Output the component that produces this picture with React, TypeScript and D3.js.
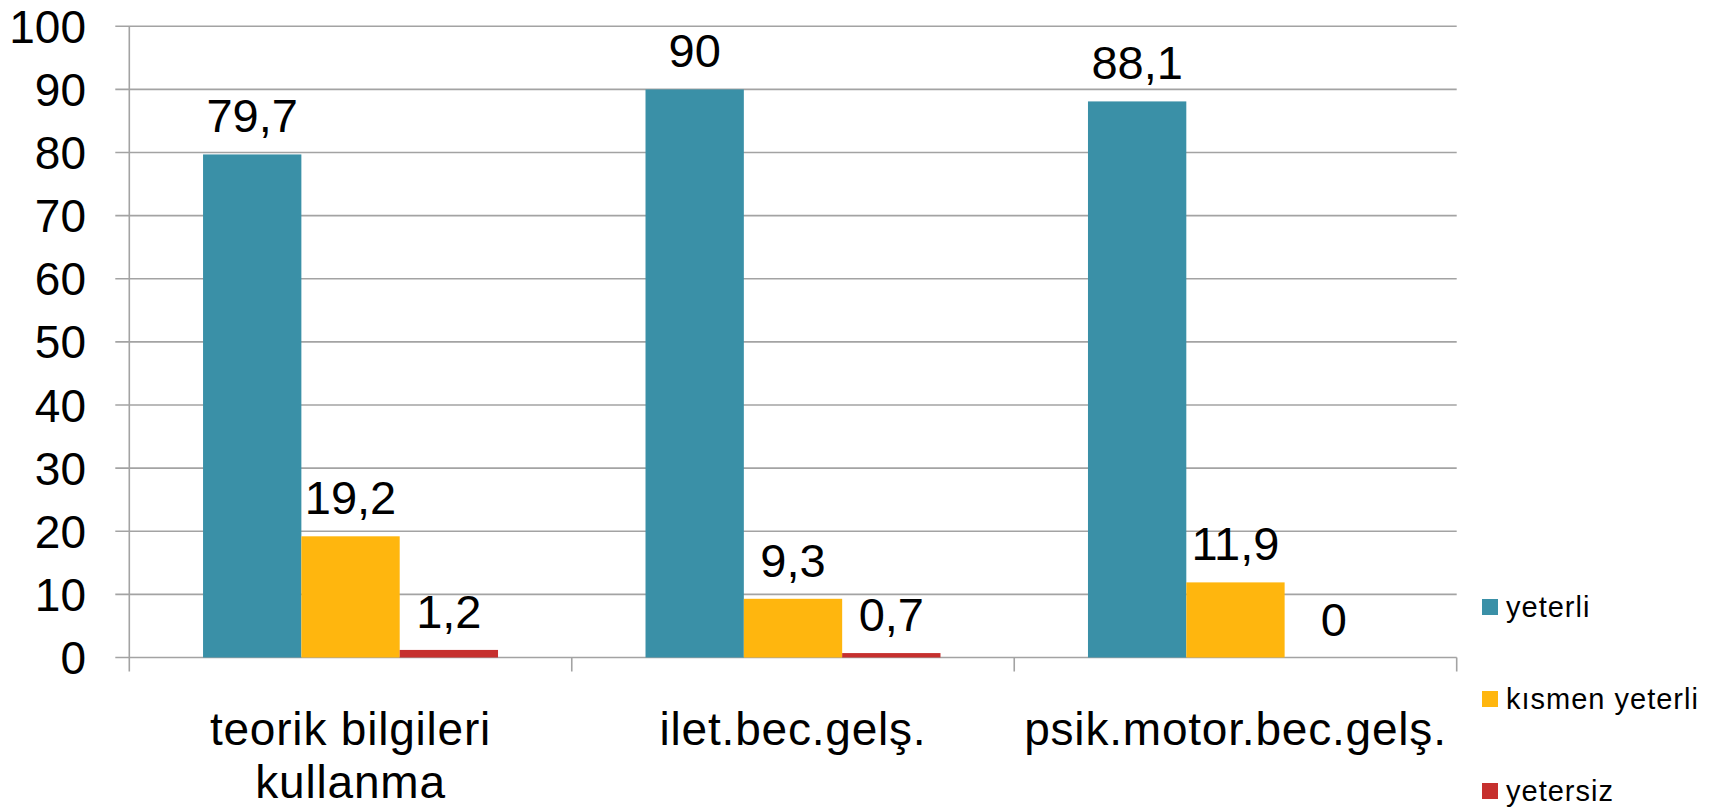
import React from "react";
import * as d3 from "d3";

// chart data
const categories = ["teorik bilgileri kullanma", "ilet.bec.gelş.", "psik.motor.bec.gelş."];
const categoryLines = [["teorik bilgileri", "kullanma"], ["ilet.bec.gelş."], ["psik.motor.bec.gelş."]];
const seriesNames = ["yeterli", "kısmen yeterli", "yetersiz"];
const yeterli = [79.7, 90, 88.1];
const kismenYeterli = [19.2, 9.3, 11.9];
const yetersiz = [1.2, 0.7, 0];
const valueLabels = [
  ["79,7", "90", "88,1"],
  ["19,2", "9,3", "11,9"],
  ["1,2", "0,7", "0"],
];
const yTicks = [0, 10, 20, 30, 40, 50, 60, 70, 80, 90, 100];

const colors = ["#3a90a7", "#ffb60e", "#c6302e"];
const seriesValues = [yeterli, kismenYeterli, yetersiz];

const App = () => {
  const width = 1721;
  const height = 809;
  const plot = { left: 129.3, right: 1456.7, top: 26.3, bottom: 657.5 };
  const font = "'Liberation Sans', Arial, sans-serif";

  const x = d3.scaleBand().domain(categories).range([plot.left, plot.right]).padding(0);
  const xInner = d3
    .scaleBand()
    .domain(seriesNames)
    .range([0, x.bandwidth()])
    .paddingInner(0)
    .paddingOuter(0.75);
  const y = d3.scaleLinear().domain([0, 100]).range([plot.bottom, plot.top]);

  const gridColor = "#a3a3a3";
  const tickLen = 14;
  const boundaries = [...categories.map((c) => x(c) as number), plot.right];

  return (
    <svg
      width={width}
      height={height}
      style={{ position: "absolute", left: 0, top: 0, background: "#fff" }}
    >
      {/* gridlines + y labels */}
      {yTicks.map((t) => (
        <g key={t}>
          <line
            x1={plot.left - tickLen}
            x2={plot.right}
            y1={y(t)}
            y2={y(t)}
            stroke={gridColor}
            strokeWidth={1.6}
          />
          <text
            x={86}
            y={y(t)}
            dy="0.36em"
            textAnchor="end"
            fontFamily={font}
            fontSize={46}
            fill="#000"
          >
            {t}
          </text>
        </g>
      ))}

      {/* y axis */}
      <line x1={plot.left} x2={plot.left} y1={plot.top} y2={plot.bottom} stroke={gridColor} strokeWidth={1.6} />

      {/* x axis ticks */}
      {boundaries.map((b, i) => (
        <line key={i} x1={b} x2={b} y1={plot.bottom} y2={plot.bottom + tickLen} stroke={gridColor} strokeWidth={1.6} />
      ))}

      {/* bars */}
      {seriesNames.map((s, si) =>
        categories.map((c, ci) => {
          const v = seriesValues[si][ci];
          const bx = (x(c) as number) + (xInner(s) as number);
          return (
            <g key={s + c}>
              <rect
                x={bx}
                y={y(v)}
                width={xInner.bandwidth()}
                height={plot.bottom - y(v)}
                fill={colors[si]}
              />
              <text
                x={bx + xInner.bandwidth() / 2}
                y={y(v) - 22}
                textAnchor="middle"
                fontFamily={font}
                fontSize={47}
                fill="#000"
              >
                {valueLabels[si][ci]}
              </text>
            </g>
          );
        })
      )}

      {/* category labels */}
      {categories.map((c, ci) => (
        <text
          key={c}
          x={(x(c) as number) + x.bandwidth() / 2}
          y={745}
          textAnchor="middle"
          fontFamily={font}
          fontSize={46}
          letterSpacing={0.8}
          fill="#000"
        >
          {categoryLines[ci].map((line, li) => (
            <tspan key={li} x={(x(c) as number) + x.bandwidth() / 2} dy={li === 0 ? 0 : 53.3}>
              {line}
            </tspan>
          ))}
        </text>
      ))}

      {/* legend */}
      {seriesNames.map((s, si) => (
        <g key={s} transform={`translate(1482, ${607 + si * 92})`}>
          <rect x={0} y={-8} width={16} height={16} fill={colors[si]} />
          <text x={24} y={10} fontFamily={font} fontSize={29} letterSpacing={1.0} fill="#000">
            {s}
          </text>
        </g>
      ))}
    </svg>
  );
};

export default App;
